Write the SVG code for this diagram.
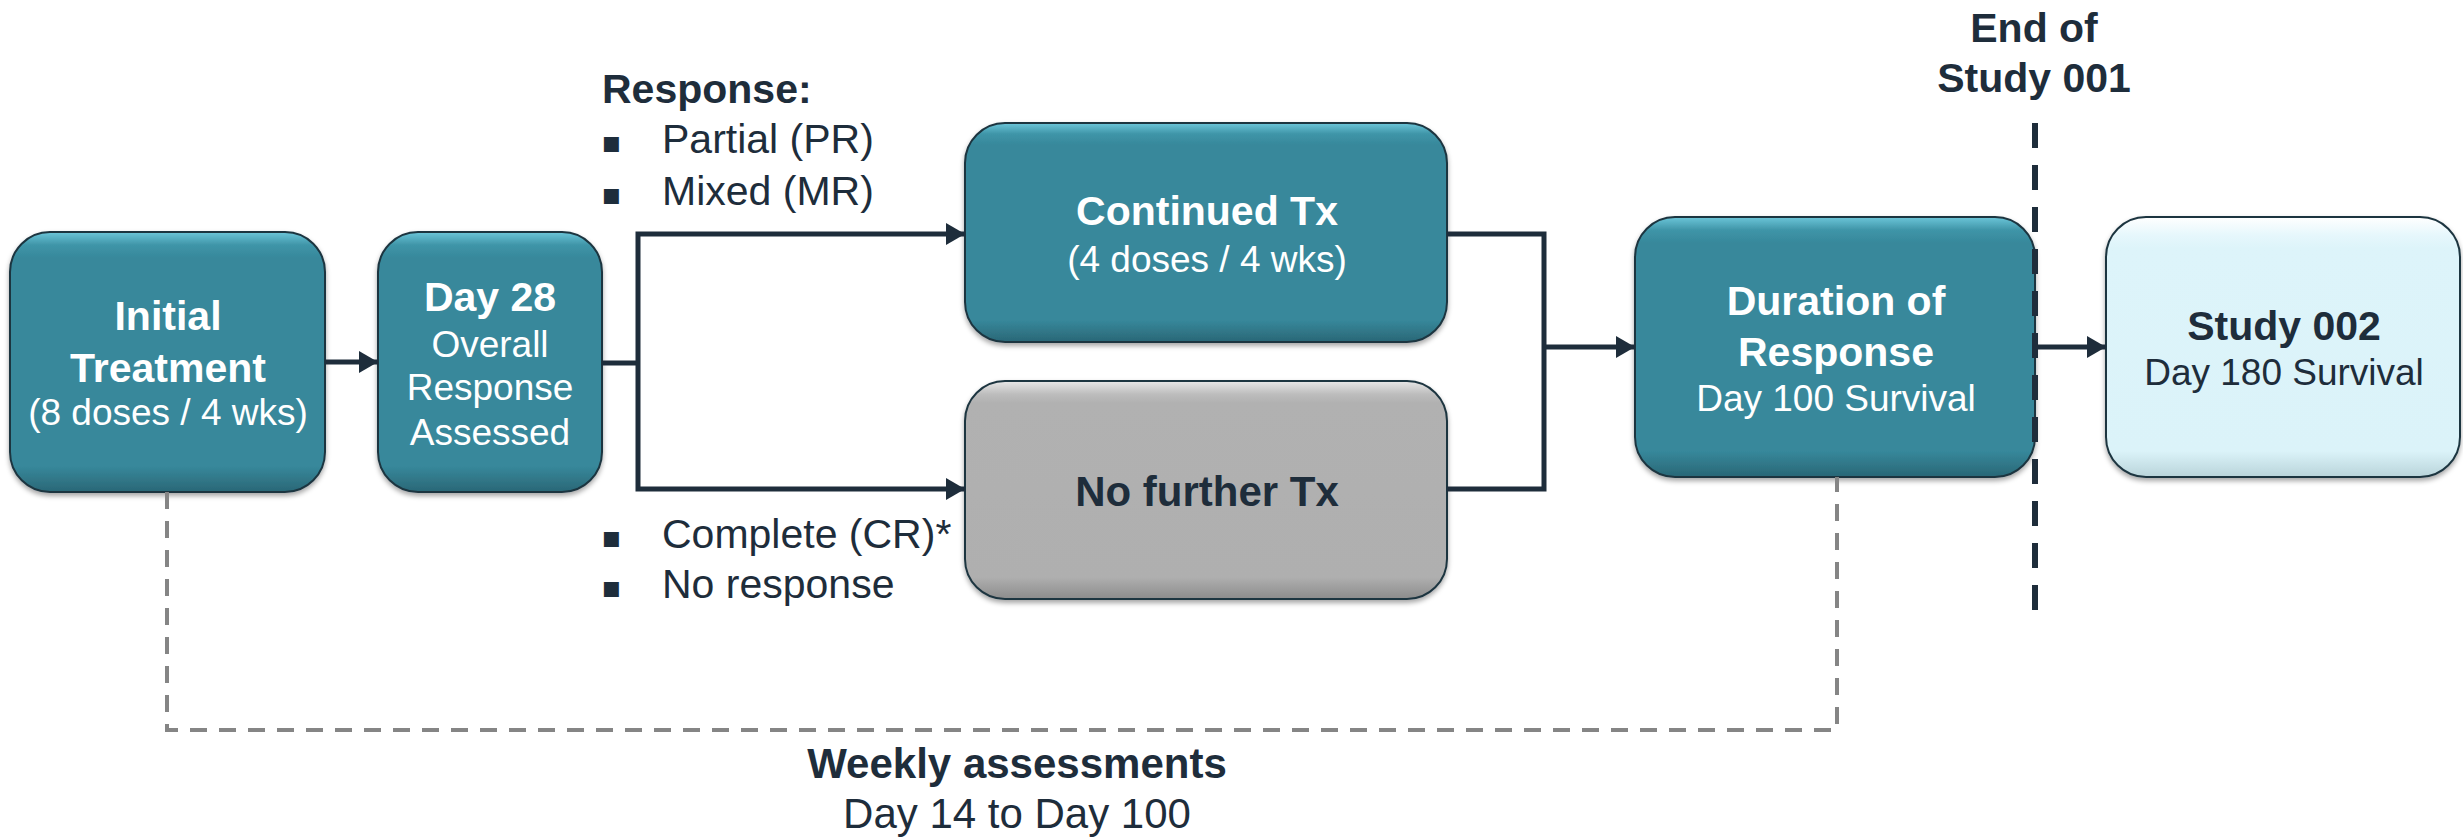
<svg xmlns="http://www.w3.org/2000/svg" width="2463" height="839" viewBox="0 0 2463 839">
  <defs>
    <linearGradient id="gTeal" x1="0" y1="0" x2="0" y2="1">
      <stop offset="0" stop-color="#6cc6d9"/>
      <stop offset="0.05" stop-color="#3f95a8"/>
      <stop offset="0.1" stop-color="#37889b"/>
      <stop offset="0.9" stop-color="#37889b"/>
      <stop offset="1" stop-color="#2a6776"/>
    </linearGradient>
    <linearGradient id="gGray" x1="0" y1="0" x2="0" y2="1">
      <stop offset="0" stop-color="#e8e8e8"/>
      <stop offset="0.06" stop-color="#bdbdbd"/>
      <stop offset="0.1" stop-color="#b1b1b1"/>
      <stop offset="0.9" stop-color="#afafaf"/>
      <stop offset="1" stop-color="#8c8c8c"/>
    </linearGradient>
    <linearGradient id="gLight" x1="0" y1="0" x2="0" y2="1">
      <stop offset="0" stop-color="#ffffff"/>
      <stop offset="0.07" stop-color="#e6f7fc"/>
      <stop offset="0.12" stop-color="#ddf4fa"/>
      <stop offset="0.9" stop-color="#dbf3f9"/>
      <stop offset="1" stop-color="#b9d4da"/>
    </linearGradient>
    <filter id="shadow" x="-5%" y="-5%" width="110%" height="115%">
      <feDropShadow dx="0" dy="3" stdDeviation="2.5" flood-color="#000" flood-opacity="0.35"/>
    </filter>
    <marker id="arrow" markerUnits="userSpaceOnUse" markerWidth="20" markerHeight="22" refX="19" refY="11" orient="auto">
      <path d="M0,0 L19,11 L0,22 Z" fill="#1e2d3b"/>
    </marker>
    <style>
      .box { stroke: #1d3540; stroke-width: 2; filter: url(#shadow); }
      .teal { fill: url(#gTeal); }
      .gray { fill: url(#gGray); }
      .light { fill: url(#gLight); }
      text { font-family: "Liberation Sans", Arial, sans-serif; }
      .wb { fill: #ffffff; font-weight: bold; font-size: 41px; text-anchor: middle; }
      .wr { fill: #ffffff; font-size: 37px; text-anchor: middle; }
      .db { fill: #1e2d3b; font-weight: bold; font-size: 42px; text-anchor: middle; }
      .dr { fill: #1e2d3b; font-size: 37px; text-anchor: middle; }
      .lb { fill: #1e2d3b; font-weight: bold; font-size: 41px; }
      .lr { fill: #1e2d3b; font-size: 41px; }
      .bul { fill: #1e2d3b; font-family: "DejaVu Sans", sans-serif; font-size: 30px; }
      .conn { fill: none; stroke: #1e2d3b; stroke-width: 5; }
      .gdash { fill: none; stroke: #858585; stroke-width: 4; stroke-dasharray: 17 12; }
      .edash { fill: none; stroke: #1e2d3b; stroke-width: 6; stroke-dasharray: 25 17; }
    </style>
  </defs>
  <rect width="2463" height="839" fill="#ffffff"/>

  <g id="node-initial">
    <rect class="box teal" x="10" y="232" width="315" height="260" rx="40"/>
    <text class="wb" x="168" y="330">Initial</text>
    <text class="wb" x="168" y="382">Treatment</text>
    <text class="wr" x="168" y="425">(8 doses / 4 wks)</text>
  </g>

  <g id="node-day28">
    <rect class="box teal" x="378" y="232" width="224" height="260" rx="40"/>
    <text class="wb" x="490" y="311">Day 28</text>
    <text class="wr" x="490" y="357">Overall</text>
    <text class="wr" x="490" y="400">Response</text>
    <text class="wr" x="490" y="445">Assessed</text>
  </g>

  <g id="label-response">
    <text class="lb" x="602" y="103">Response:</text>
    <text class="bul" x="601" y="152">▪</text>
    <text class="lr" x="662" y="153">Partial (PR)</text>
    <text class="bul" x="601" y="204">▪</text>
    <text class="lr" x="662" y="205">Mixed (MR)</text>
    <text class="bul" x="601" y="547">▪</text>
    <text class="lr" x="662" y="548">Complete (CR)*</text>
    <text class="bul" x="601" y="597">▪</text>
    <text class="lr" x="662" y="598">No response</text>
  </g>

  <g id="node-continued">
    <rect class="box teal" x="965" y="123" width="482" height="219" rx="40"/>
    <text class="wb" x="1207" y="225">Continued Tx</text>
    <text class="wr" x="1207" y="272">(4 doses / 4 wks)</text>
  </g>

  <g id="node-nofurther">
    <rect class="box gray" x="965" y="381" width="482" height="218" rx="40"/>
    <text class="db" x="1207" y="506">No further Tx</text>
  </g>

  <g id="node-duration">
    <rect class="box teal" x="1635" y="217" width="400" height="260" rx="40"/>
    <text class="wb" x="1836" y="315">Duration of</text>
    <text class="wb" x="1836" y="366">Response</text>
    <text class="wr" x="1836" y="411">Day 100 Survival</text>
  </g>

  <g id="node-study002">
    <rect class="box light" x="2106" y="217" width="354" height="260" rx="40"/>
    <text class="db" x="2284" y="340" style="font-size:41px">Study 002</text>
    <text class="dr" x="2284" y="385">Day 180 Survival</text>
  </g>

  <g id="label-end">
    <text class="db" x="2034" y="42" style="font-size:41px">End of</text>
    <text class="db" x="2034" y="92" style="font-size:41px">Study 001</text>
  </g>

  <g id="label-weekly">
    <text class="db" x="1017" y="778">Weekly assessments</text>
    <text class="dr" x="1017" y="828" style="font-size:42px">Day 14 to Day 100</text>
  </g>

  <g id="connectors">
    <path class="conn" d="M325,362 H378" marker-end="url(#arrow)"/>
    <path class="conn" d="M602,363 H638"/>
    <path class="conn" d="M638,363 V234 H965" marker-end="url(#arrow)"/>
    <path class="conn" d="M638,363 V489 H965" marker-end="url(#arrow)"/>
    <path class="conn" d="M1447,234 H1544 V347"/>
    <path class="conn" d="M1447,489 H1544 V347"/>
    <path class="conn" d="M1544,347 H1635" marker-end="url(#arrow)"/>
    <path class="conn" d="M2035,347 H2106" marker-end="url(#arrow)"/>
    <path class="gdash" d="M167,492 V730 H1837 V477"/>
    <path class="edash" d="M2035,123 V616"/>
  </g>
</svg>
